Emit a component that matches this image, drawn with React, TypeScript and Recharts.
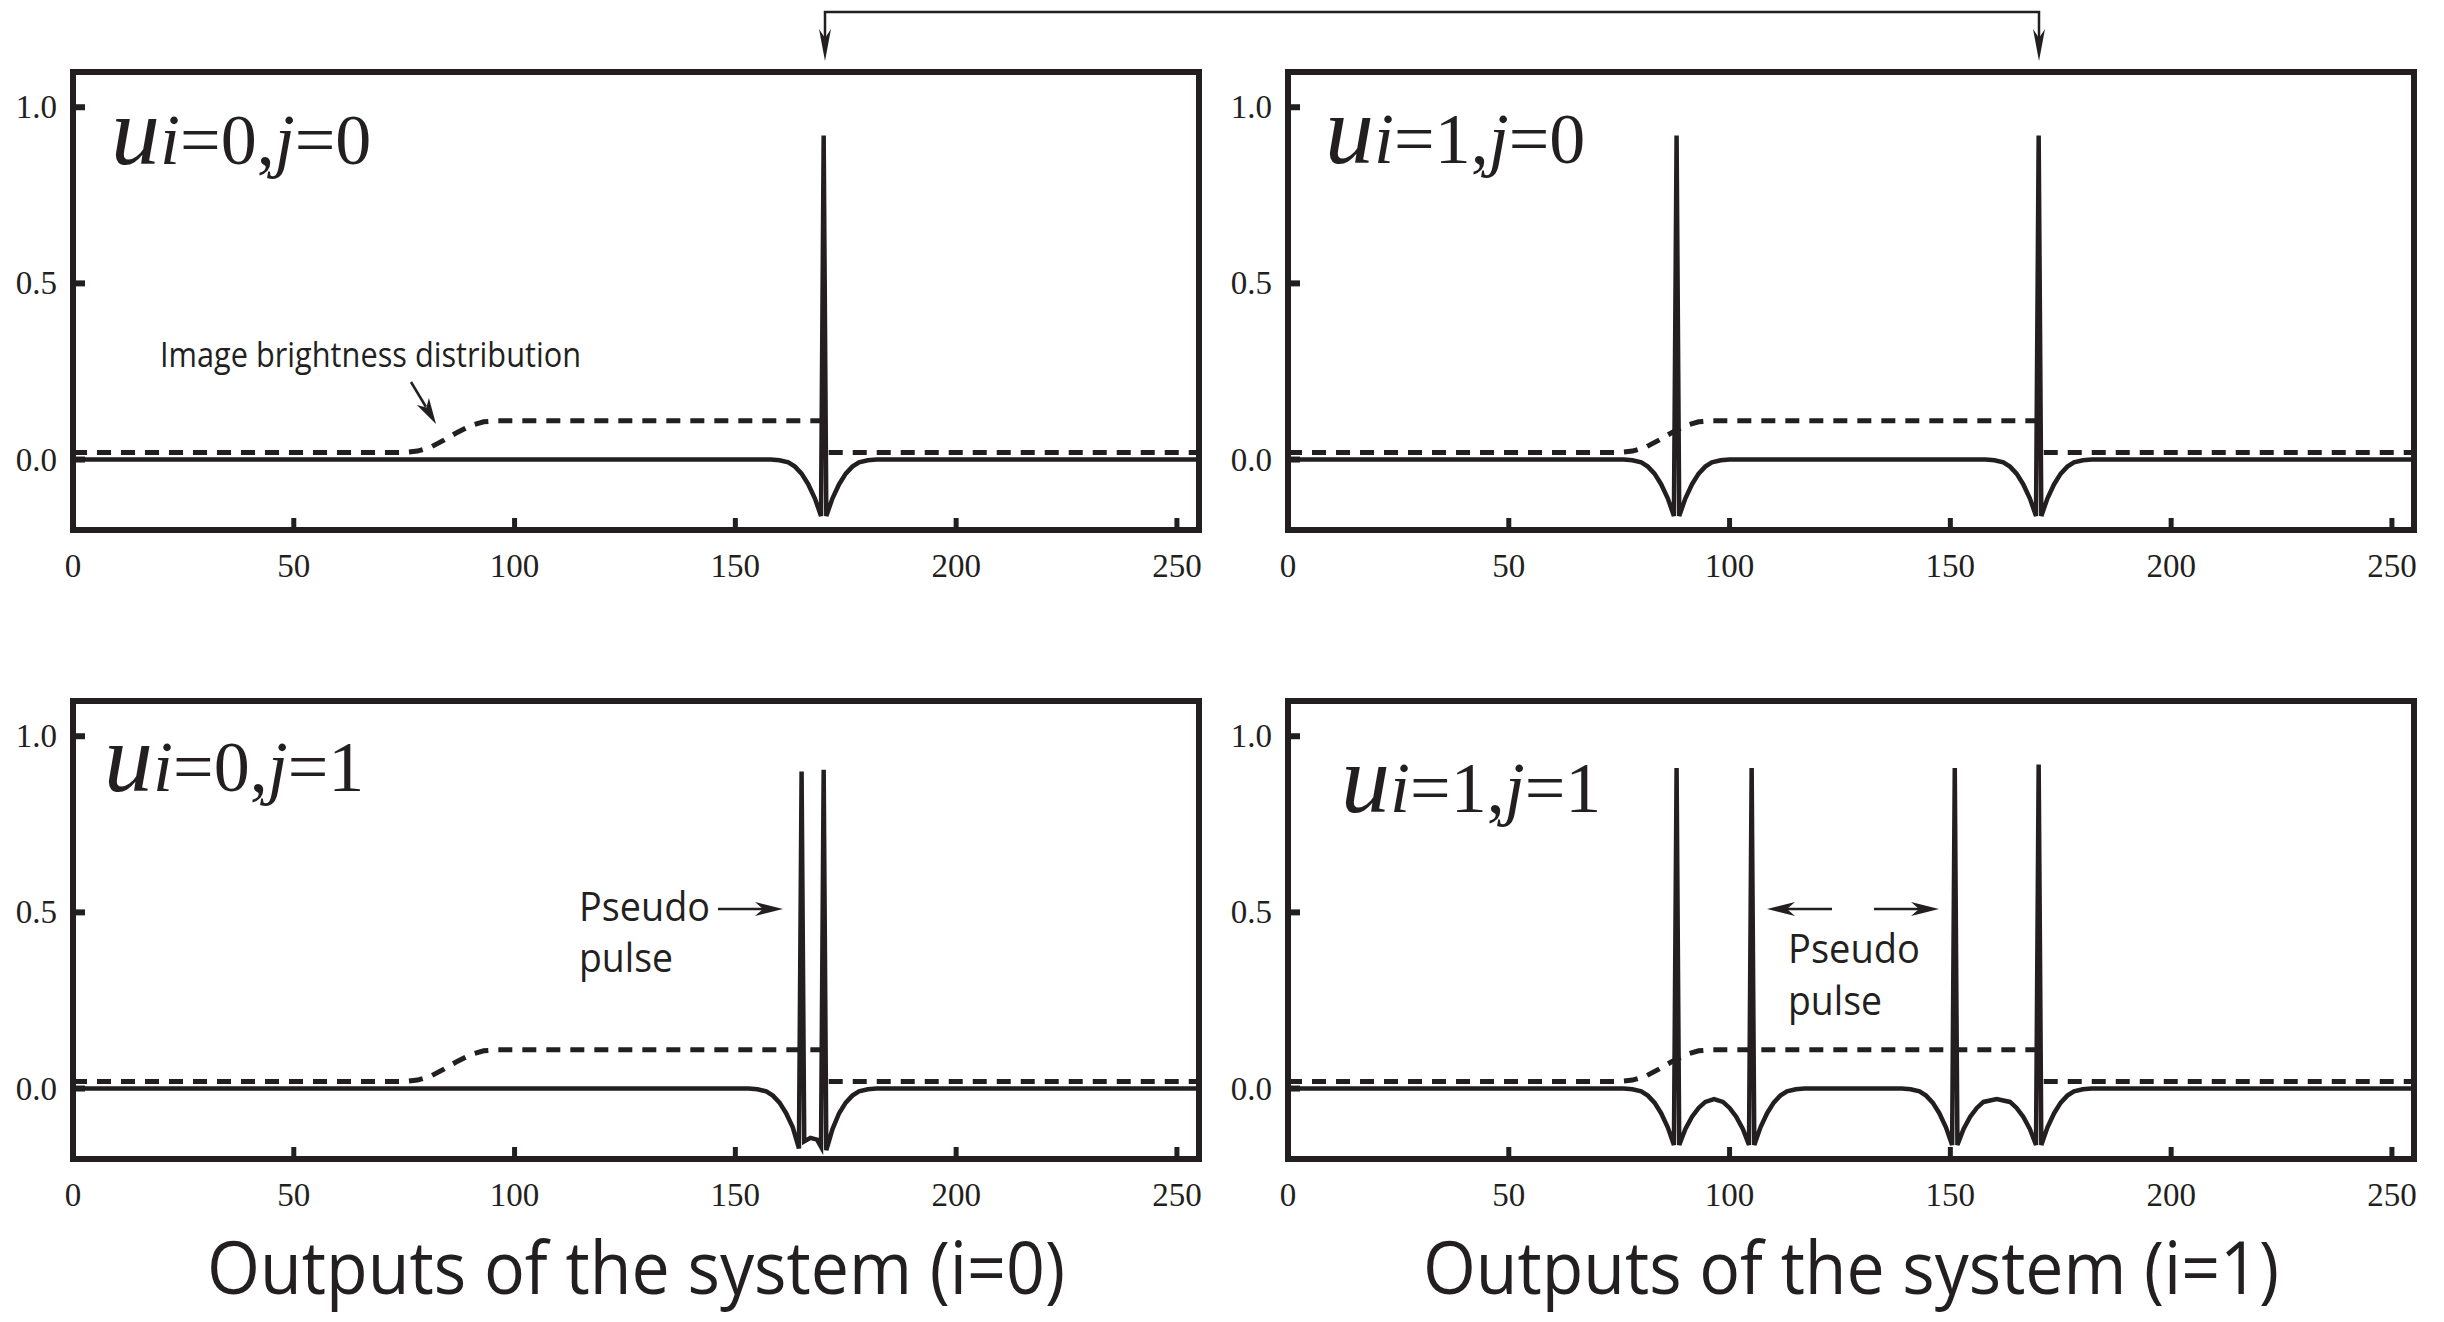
import { LineChart, Line, XAxis, YAxis, ReferenceArea } from "recharts";

const INK = "#231f20";
const SERIF = "'Liberation Serif', 'Times New Roman', serif";
const SANS = "'Open Sans', 'Noto Sans', sans-serif";

const xTicks = [0, 50, 100, 150, 200, 250];
const yTicks = [0, 0.5, 1.0];

// image brightness distribution (dashed), identical in every panel
const brightnessX = [0, 75, 78, 81, 84, 87, 90, 93, 96, 170, 170.5, 255];
const brightnessY = [0.02, 0.02, 0.024, 0.035, 0.055, 0.077, 0.096, 0.107, 0.11, 0.11, 0.02, 0.02];

// u(i=0, j=0)
const out00X = [0, 158, 160, 162, 163.5, 165, 166.5, 168, 169.4, 170, 170.6, 172, 173.5, 175, 176.5, 178, 180, 182, 255];
const out00Y = [0, 0, -0.002, -0.008, -0.02, -0.04, -0.07, -0.11, -0.16, 0.92, -0.16, -0.11, -0.07, -0.04, -0.02, -0.008, -0.002, 0, 0];

// u(i=1, j=0)
const out10X = [
  0, 76, 78, 80, 81.5, 83, 84.5, 86, 87.4, 88, 88.6, 90, 91.5, 93, 94.5, 96, 98, 100,
  158, 160, 162, 163.5, 165, 166.5, 168, 169.4, 170, 170.6, 172, 173.5, 175, 176.5, 178, 180, 182, 255,
];
const out10Y = [
  0, 0, -0.002, -0.008, -0.02, -0.04, -0.07, -0.11, -0.16, 0.92, -0.16, -0.11, -0.07, -0.04, -0.02, -0.008, -0.002, 0,
  0, -0.002, -0.008, -0.02, -0.04, -0.07, -0.11, -0.16, 0.92, -0.16, -0.11, -0.07, -0.04, -0.02, -0.008, -0.002, 0, 0,
];

// u(i=0, j=1)
const out01X = [0, 153, 155, 157, 158.5, 160, 161.5, 163, 164.4, 165, 165.6, 167, 168.5, 169.4, 170, 170.6, 172, 173.5, 175, 176.5, 178, 180, 182, 255];
const out01Y = [0, 0, -0.002, -0.008, -0.02, -0.04, -0.07, -0.11, -0.17, 0.9, -0.15, -0.14, -0.145, -0.165, 0.905, -0.175, -0.115, -0.07, -0.04, -0.02, -0.008, -0.002, 0, 0];

// u(i=1, j=1)
const out11X = [
  0, 76, 78, 80, 81.5, 83, 84.5, 86, 87.4, 88, 88.6, 90, 91.5, 93, 94.5, 96.5, 98.5, 100, 101.5, 103, 104.4, 105,
  105.6, 107, 108.5, 110, 111.5, 113, 115, 117, 139, 141, 143, 144.5, 146, 147.5, 149, 150.4, 151,
  151.6, 153, 154.5, 156, 157.5, 160.5, 163.5, 165, 166.5, 168, 169.4, 170,
  170.6, 172, 173.5, 175, 176.5, 178, 180, 182, 255,
];
const out11Y = [
  0, 0, -0.002, -0.008, -0.02, -0.04, -0.07, -0.11, -0.16, 0.91, -0.16, -0.115, -0.08, -0.055, -0.038, -0.03, -0.038, -0.055, -0.08, -0.115, -0.16, 0.91,
  -0.16, -0.11, -0.07, -0.04, -0.02, -0.008, -0.002, 0, 0, -0.002, -0.008, -0.02, -0.04, -0.07, -0.11, -0.16, 0.91,
  -0.16, -0.115, -0.08, -0.055, -0.038, -0.03, -0.038, -0.055, -0.08, -0.115, -0.16, 0.92,
  -0.16, -0.11, -0.07, -0.04, -0.02, -0.008, -0.002, 0, 0,
];

const zip = (xs: number[], ys: number[]) => xs.map((x, i) => ({ x, y: ys[i] }));
const brightness = zip(brightnessX, brightnessY);

const TICK_LEN = 12;
const labelStyle = { fill: INK, fontSize: 33, fontFamily: SERIF };

// inward ticks drawn by hand so they sit inside the frame like the original
const BottomTick = (p: any) => (
  <g>
    <line x1={p.x} y1={p.y} x2={p.x} y2={p.y - TICK_LEN} stroke={INK} strokeWidth={5} />
    <text x={p.x} y={p.y + 47} textAnchor="middle" {...labelStyle}>{p.payload.value}</text>
  </g>
);
const TopTick = (p: any) => (
  <line x1={p.x} y1={p.y} x2={p.x} y2={p.y + TICK_LEN} stroke={INK} strokeWidth={5} />
);
const LeftTick = (p: any) => (
  <g>
    <line x1={p.x} y1={p.y} x2={p.x + TICK_LEN} y2={p.y} stroke={INK} strokeWidth={6} />
    <text x={p.x - 16} y={p.y + 11} textAnchor="end" {...labelStyle}>{Number(p.payload.value).toFixed(1)}</text>
  </g>
);
const RightTick = (p: any) => (
  <line x1={p.x} y1={p.y} x2={p.x - TICK_LEN} y2={p.y} stroke={INK} strokeWidth={6} />
);

const axisCommon = {
  axisLine: false,
  tickLine: false,
  allowDataOverflow: true,
  tickSize: 0,
  tickMargin: 0,
  interval: 0 as const,
};

const Panel = ({ left, top, solid }: { left: number; top: number; solid: { x: number; y: number }[] }) => (
  <div style={{ position: "absolute", left, top }}>
    <LineChart width={1222} height={620} margin={{ top: 72, right: 23, bottom: 30, left: 13 }}>
      <XAxis {...axisCommon} xAxisId="b" dataKey="x" type="number" domain={[0, 255]} ticks={xTicks} height={60} tick={BottomTick} />
      <XAxis {...axisCommon} xAxisId="t" orientation="top" dataKey="x" type="number" domain={[0, 255]} ticks={xTicks} height={0} tick={TopTick} />
      <YAxis {...axisCommon} yAxisId="l" type="number" domain={[-0.2, 1.1]} ticks={yTicks} width={60} tick={LeftTick} />
      <YAxis {...axisCommon} yAxisId="r" orientation="right" type="number" domain={[-0.2, 1.1]} ticks={yTicks} width={0} tick={RightTick} />
      <ReferenceArea
        xAxisId="b"
        yAxisId="l"
        x1={0}
        x2={255}
        y1={-0.2}
        y2={1.1}
        fill="none"
        fillOpacity={0}
        stroke={INK}
        strokeWidth={6}
        ifOverflow="visible"
      />
      <Line
        xAxisId="t"
        yAxisId="r"
        data={brightness}
        dataKey="y"
        type="linear"
        stroke={INK}
        strokeWidth={5}
        strokeDasharray="14 10"
        dot={false}
        isAnimationActive={false}
      />
      <Line
        xAxisId="b"
        yAxisId="l"
        data={solid}
        dataKey="y"
        type="linear"
        stroke={INK}
        strokeWidth={4.5}
        dot={false}
        isAnimationActive={false}
      />
    </LineChart>
  </div>
);

// barbed arrowhead, tip at (tx, ty) pointing along (ux, uy)
const head = (tx: number, ty: number, ux: number, uy: number, len = 28, half = 7, notch = 8) => {
  const bx = tx - ux * len;
  const by = ty - uy * len;
  const nx = tx - ux * (len - notch);
  const ny = ty - uy * (len - notch);
  const px = -uy;
  const py = ux;
  return `M${tx},${ty} L${bx + px * half},${by + py * half} L${nx},${ny} L${bx - px * half},${by - py * half} Z`;
};

const PanelLabel = ({ x, y, i, j }: { x: number; y: number; i: number; j: number }) => (
  <text x={x} y={y} fontFamily={SERIF} fontSize={72} fill={INK}>
    <tspan fontStyle="italic" fontSize={98}>u</tspan>
    <tspan fontStyle="italic">i</tspan>
    <tspan>={i},</tspan>
    <tspan fontStyle="italic">j</tspan>
    <tspan>={j}</tspan>
  </text>
);

export default function App() {
  const ax = 24 / Math.hypot(24, 41);
  const ay = 41 / Math.hypot(24, 41);
  return (
    <div style={{ position: "absolute", left: 0, top: 0, width: 2444, height: 1322, background: "#fff", overflow: "hidden" }}>
      <Panel left={0} top={0} solid={zip(out00X, out00Y)} />
      <Panel left={1215} top={0} solid={zip(out10X, out10Y)} />
      <Panel left={0} top={629} solid={zip(out01X, out01Y)} />
      <Panel left={1215} top={629} solid={zip(out11X, out11Y)} />
      <svg width={2444} height={1322} style={{ position: "absolute", left: 0, top: 0, pointerEvents: "none" }}>
        {/* bracket linking the two spikes at 170 */}
        <path d="M825,40 V12 H2039 V40" fill="none" stroke={INK} strokeWidth={2.5} />
        <path d={head(825, 61, 0, 1, 32, 6, 9)} fill={INK} />
        <path d={head(2039, 61, 0, 1, 32, 6, 9)} fill={INK} />

        <PanelLabel x={111} y={164} i={0} j={0} />
        <PanelLabel x={1325} y={163} i={1} j={0} />
        <PanelLabel x={104} y={791} i={0} j={1} />
        <PanelLabel x={1341} y={812} i={1} j={1} />

        <text x={160} y={367} fontFamily={SANS} fontSize={34} fill={INK} textLength={421} lengthAdjust="spacingAndGlyphs">
          Image brightness distribution
        </text>
        <line x1={411} y1={382} x2={436 - ax * 20} y2={424 - ay * 20} stroke={INK} strokeWidth={2.5} />
        <path d={head(436, 424, ax, ay, 26, 7, 7)} fill={INK} />

        <text x={579} y={921} fontFamily={SANS} fontSize={41} fill={INK} textLength={131} lengthAdjust="spacingAndGlyphs">Pseudo</text>
        <text x={579} y={972} fontFamily={SANS} fontSize={41} fill={INK} textLength={94} lengthAdjust="spacingAndGlyphs">pulse</text>
        <line x1={718} y1={909} x2={764} y2={909} stroke={INK} strokeWidth={2.5} />
        <path d={head(783, 909, 1, 0)} fill={INK} />

        <line x1={1786} y1={909} x2={1832} y2={909} stroke={INK} strokeWidth={2.5} />
        <path d={head(1767, 909, -1, 0)} fill={INK} />
        <line x1={1874} y1={909} x2={1920} y2={909} stroke={INK} strokeWidth={2.5} />
        <path d={head(1939, 909, 1, 0)} fill={INK} />
        <text x={1788} y={963} fontFamily={SANS} fontSize={41} fill={INK} textLength={132} lengthAdjust="spacingAndGlyphs">Pseudo</text>
        <text x={1788} y={1015} fontFamily={SANS} fontSize={41} fill={INK} textLength={94} lengthAdjust="spacingAndGlyphs">pulse</text>

        <text x={207} y={1294} fontFamily={SANS} fontSize={74} fill={INK} textLength={858} lengthAdjust="spacingAndGlyphs">
          Outputs of the system (i=0)
        </text>
        <text x={1423} y={1294} fontFamily={SANS} fontSize={74} fill={INK} textLength={856} lengthAdjust="spacingAndGlyphs">
          Outputs of the system (i=1)
        </text>
      </svg>
    </div>
  );
}
